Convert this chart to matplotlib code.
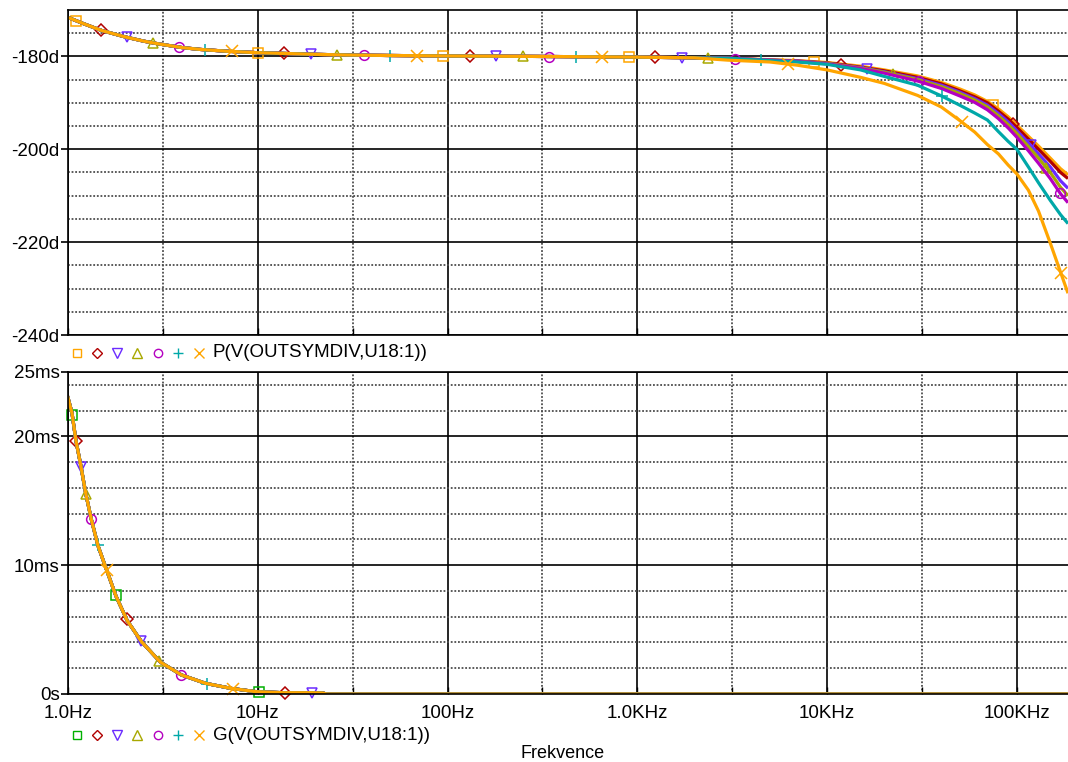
import numpy as np
import matplotlib
matplotlib.use('Agg')
import matplotlib.pyplot as plt
from matplotlib.ticker import FixedLocator, NullFormatter

plt.rcParams['font.family'] = ['Liberation Sans', 'DejaVu Sans']
FS = 13.5

# phase data, all traces share the low frequency part
freq_low = [1, 1.2, 1.5, 2, 2.5, 3, 4, 5, 7, 10, 15, 20, 30, 50, 100, 300, 1000, 2000]
phase_low = [-171.6, -172.9, -174.4, -175.8, -176.7, -177.3, -178.1, -178.5, -178.9, -179.2,
             -179.4, -179.55, -179.7, -179.8, -179.9, -180.0, -180.15, -180.3]
freq_high = [3e3, 5e3, 7e3, 1e4, 1.5e4, 2e4, 3e4, 4e4, 5e4, 6e4, 7e4, 8e4, 9e4, 1e5,
             1.15e5, 1.3e5, 1.5e5, 1.7e5, 1.86e5]
phase_sq = [-180.4, -180.7, -180.9, -181.3, -182.1, -182.9, -184.2, -185.6, -187.0, -188.3,
            -189.7, -191.3, -193.0, -194.8, -197.2, -199.3, -201.9, -204.2, -205.5]
phase_di = [-180.4, -180.8, -181.0, -181.4, -182.3, -183.1, -184.5, -185.9, -187.4, -188.7,
            -190.0, -191.8, -193.5, -195.3, -197.8, -200.0, -202.6, -205.0, -206.3]
phase_tv = [-180.4, -180.8, -181.0, -181.5, -182.4, -183.3, -184.8, -186.2, -187.7, -189.1,
            -190.5, -192.3, -194.1, -196.0, -198.6, -201.0, -203.8, -206.8, -208.4]
phase_ta = [-180.4, -180.8, -181.1, -181.5, -182.5, -183.4, -185.0, -186.5, -188.0, -189.4,
            -190.9, -192.8, -194.7, -196.6, -199.4, -201.9, -205.0, -208.2, -210.0]
phase_ci = [-180.4, -180.8, -181.1, -181.6, -182.6, -183.6, -185.3, -186.9, -188.5, -189.9,
            -191.5, -193.4, -195.4, -197.4, -200.3, -203.0, -206.3, -209.6, -211.5]
phase_pl = [-180.4, -180.9, -181.2, -181.7, -182.9, -184.3, -186.2, -188.5, -190.5, -192.2,
            -193.7, -196.2, -198.3, -200.0, -203.8, -207.2, -211.0, -214.1, -216.0]
phase_x = [-180.8, -181.2, -181.9, -182.9, -184.5, -185.8, -188.4, -190.9, -193.8, -196.3,
           -199.0, -201.0, -203.4, -205.3, -208.8, -213.3, -220.2, -226.5, -231.0]
phase_traces = [phase_sq, phase_di, phase_tv, phase_ta, phase_ci, phase_pl, phase_x]

# group delay (ms), the seven traces coincide
g_freq = [1, 1.05, 1.1, 1.166, 1.243, 1.33, 1.44, 1.6, 1.79, 2.05, 2.44, 3.07, 3.96, 5.3,
          7.2, 9.8, 13.6, 18.8, 22, 23, 100, 1e3, 1e4, 1e5, 1.86e5]
g_ms = [23.0, 21.8, 19.7, 17.8, 15.5, 13.5, 11.5, 9.6, 7.6, 5.7, 4.06, 2.47, 1.48, 0.83,
        0.44, 0.18, 0.1, 0.1, 0.08, 0.0, 0.0, 0.0, 0.0, 0.0, 0.0]
g_marked = 19  # markers only on the non-zero part of the trace

xticks = [1, 10, 100, 1e3, 1e4, 1e5]
xlabels = ['1.0Hz', '10Hz', '100Hz', '1.0KHz', '10KHz', '100KHz']

markers = ['s', 'D', 'v', '^', 'o', '+', 'x']
msizes = [7, 6, 7.5, 7.5, 7, 8.5, 8.5]
top_colors = ['#FFA500', '#B00000', '#6B2BFF', '#A8A800', '#B400C0', '#00A8A8', '#FFA500']
bot_colors = ['#00B000', '#B00000', '#6B2BFF', '#A8A800', '#B400C0', '#00A8A8', '#FFA500']

W, H = 1068, 762
fig = plt.figure(figsize=(W / 100, H / 100), dpi=100)
x0 = 68 / W
ax1 = fig.add_axes([x0, 1 - 335 / H, 1 - x0, (335 - 10) / H])
ax2 = fig.add_axes([x0, 1 - 694 / H, 1 - x0, (694 - 372) / H])


def style_axes(ax):
    ax.set_xscale('log')
    ax.set_xlim(1, 1.86e5)
    ax.xaxis.set_major_locator(FixedLocator(xticks))
    ax.xaxis.set_minor_locator(FixedLocator([10 ** (n + 0.5) for n in range(6)]))
    ax.xaxis.set_minor_formatter(NullFormatter())
    ax.grid(which='major', color='black', lw=1.2, ls='-')
    ax.grid(which='minor', color='0.3', lw=1.3, ls=(0, (1, 1)))
    ax.set_axisbelow(True)
    ax.spines['right'].set_visible(False)
    for s in ['left', 'top', 'bottom']:
        ax.spines[s].set_linewidth(1.2)
    ax.tick_params(axis='y', which='major', direction='out', length=5, width=1.2, labelsize=FS, pad=1)
    ax.tick_params(axis='y', which='minor', length=0)
    ax.tick_params(axis='x', which='both', direction='in', length=5, width=1, labelsize=FS, pad=8)


def place_markers(ax, x, y, start, step, **kw):
    # markers spaced evenly along the drawn line (display pixels)
    pts = ax.transData.transform(np.column_stack([x, y]))
    d = np.concatenate([[0], np.cumsum(np.hypot(*np.diff(pts, axis=0).T))])
    s = np.arange(start, d[-1], step)
    px = np.interp(s, d, pts[:, 0])
    py = np.interp(s, d, pts[:, 1])
    mx, my = ax.transData.inverted().transform(np.column_stack([px, py])).T
    ax.plot(mx, my, ls='none', clip_on=False, **kw)


# upper plot: phase
style_axes(ax1)
ax1.set_ylim(-240, -170)
ax1.yaxis.set_major_locator(FixedLocator([-240, -220, -200, -180]))
ax1.set_yticklabels(['-240d', '-220d', '-200d', '-180d'])
ax1.yaxis.set_minor_locator(FixedLocator([v for v in range(-235, -170, 5) if v % 20 != 0]))
ax1.tick_params(axis='x', labelbottom=False)

# lower plot: group delay
style_axes(ax2)
ax2.set_ylim(0, 25)
ax2.yaxis.set_major_locator(FixedLocator([0, 10, 20, 25]))
ax2.set_yticklabels(['0s', '10ms', '20ms', '25ms'])
ax2.yaxis.set_minor_locator(FixedLocator([2, 4, 6, 8, 12, 14, 16, 18, 22, 24]))
ax2.set_xticklabels(xlabels)

step = 26.5
for i, ph in enumerate(phase_traces):
    f = freq_low + freq_high
    p = phase_low + ph
    ax1.plot(f, p, color=top_colors[i], lw=2.3, solid_capstyle='butt')
    place_markers(ax1, f, p, 9 + i * step, 7 * step, marker=markers[i], ms=msizes[i],
                  mfc='none', mec=top_colors[i], mew=1.1)
    ax2.plot(g_freq, g_ms, color=bot_colors[i], lw=2.3)
    place_markers(ax2, g_freq[:g_marked], g_ms[:g_marked], 18 + i * step, 7 * step,
                  marker=markers[i], ms=msizes[i], mfc='none', mec=bot_colors[i], mew=1.1)

# legend rows under each plot
leg_x = [77, 97, 117, 137, 158, 178, 199]
for row_y, colors, label in [(353, top_colors, 'P(V(OUTSYMDIV,U18:1))'),
                             (735, bot_colors, 'G(V(OUTSYMDIV,U18:1))')]:
    for i in range(7):
        fig.add_artist(plt.Line2D([leg_x[i] / W], [1 - row_y / H], marker=markers[i],
                                  ms=msizes[i] - 1, mfc='none', mec=colors[i], mew=1,
                                  ls='none'))
    fig.text(213 / W, 1 - row_y / H, label, fontsize=FS, va='center', ha='left')

fig.text(563 / W, 1 - 753 / H, 'Frekvence', fontsize=FS - 0.5, ha='center', va='center')

fig.savefig('out.png', dpi=100)
